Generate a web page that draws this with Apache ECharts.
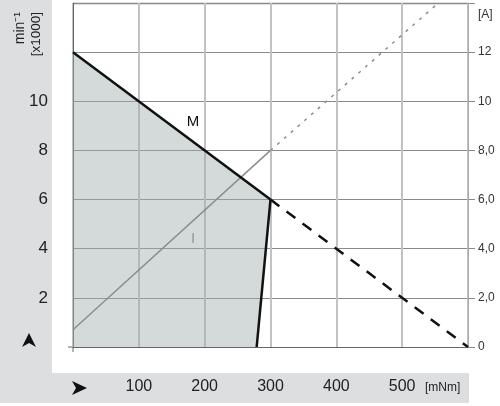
<!DOCTYPE html>
<html>
<head>
<meta charset="utf-8">
<script src="https://cdn.jsdelivr.net/npm/echarts@6/dist/echarts.min.js"></script>
<style>
  html, body { margin: 0; padding: 0; background: #fff; }
  #chart { width: 500px; height: 406px; }
</style>
</head>
<body>
<div id="chart"></div>
<script>
// speed / torque characteristic (speed in min^-1 x1000, current in A)
var mTorque = [0, 300];
var mSpeed = [12, 6];
var mExtTorque = [300, 600];
var mExtSpeed = [6, 0];
var edgeTorque = [300, 279];
var edgeSpeed = [6, 0];
var iTorque = [0, 300];
var iCurrent = [0.7, 8];
var iExtTorque = [300, 555];
var iExtCurrent = [8, 14];
var xTicks = [100, 200, 300, 400, 500];
var leftTicks = [2, 4, 6, 8, 10];

function pairs(xs, ys) {
  return xs.map(function (x, i) { return [x, ys[i]]; });
}

// operating area: M line, right edge, back to origin
var areaPts = pairs(mTorque, mSpeed).concat(pairs(edgeTorque, edgeSpeed).slice(1), [[0, 0]]);

var font = 'Liberation Sans, Arial, sans-serif';
var myChart = echarts.init(document.getElementById('chart'));

var option = {
  animation: false,
  grid: { left: 73, right: 32, top: 3, bottom: 59 },
  xAxis: {
    type: 'value', min: 0, max: 600, interval: 100,
    axisLine: { show: true, lineStyle: { color: '#666', width: 1 } },
    axisTick: { show: false },
    splitLine: { show: true, lineStyle: { color: '#c2c2c2', width: 2 } },
    axisLabel: {
      margin: 32, fontSize: 16, color: '#222', fontFamily: font,
      formatter: function (v) { return xTicks.indexOf(v) >= 0 ? String(v) : ''; }
    }
  },
  yAxis: [
    {
      type: 'value', min: 0, max: 14, interval: 2, position: 'left',
      axisLine: { show: true, lineStyle: { color: '#666' } },
      axisTick: { show: false },
      splitLine: { show: true, lineStyle: { color: '#8a8a8a', width: 1 } },
      axisLabel: {
        margin: 25, fontSize: 17, color: '#222', fontFamily: font,
        formatter: function (v) { return leftTicks.indexOf(v) >= 0 ? String(v) : ''; }
      }
    },
    {
      type: 'value', min: 0, max: 14, interval: 2, position: 'right',
      axisLine: { show: true, lineStyle: { color: '#aaa' } },
      axisTick: { show: true, inside: false, length: 7, lineStyle: { color: '#8a8a8a' } },
      splitLine: { show: false },
      axisLabel: {
        margin: 10, fontSize: 12, color: '#333', fontFamily: font,
        formatter: function (v) {
          if (v === 14) return '';
          if (v === 0 || v >= 10) return String(v);
          return v.toFixed(1).replace('.', ',');
        }
      }
    }
  ],
  graphic: [
    { type: 'rect', z: -10, shape: { x: 0, y: 0, width: 52, height: 403 }, style: { fill: '#dddee0' } },
    { type: 'rect', z: -10, shape: { x: 0, y: 373, width: 469, height: 30 }, style: { fill: '#dddee0' } },
    { type: 'line', shape: { x1: 73, y1: 3.5, x2: 468, y2: 3.5 }, style: { stroke: '#c2c2c2', lineWidth: 2 } },
    { type: 'polygon', shape: { points: [[29, 333], [36, 347], [29, 343], [22, 347]] }, style: { fill: '#111' } },
    { type: 'polygon', shape: { points: [[72, 381], [87, 388], [72, 395], [76, 388]] }, style: { fill: '#111' } },
    { type: 'line', shape: { x1: 73, y1: 347, x2: 73, y2: 352 }, style: { stroke: '#666', lineWidth: 1 } },
    { type: 'line', shape: { x1: 68, y1: 347, x2: 73, y2: 347 }, style: { stroke: '#666', lineWidth: 1 } },
    { type: 'text', x: 20, y: 12, rotation: Math.PI / 2,
      style: { text: 'min\u207B\u00B9', font: '14px ' + font, fill: '#222', align: 'right', verticalAlign: 'middle' } },
    { type: 'text', x: 36, y: 12, rotation: Math.PI / 2,
      style: { text: '[x1000]', font: '13.5px ' + font, fill: '#222', align: 'right', verticalAlign: 'middle' } },
    { type: 'text', x: 478, y: 15,
      style: { text: '[A]', font: '12px ' + font, fill: '#333', align: 'left', verticalAlign: 'middle' } },
    { type: 'text', x: 425, y: 388,
      style: { text: '[mNm]', font: '12px ' + font, fill: '#222', align: 'left', verticalAlign: 'middle' } },
    { type: 'text', x: 193, y: 122,
      style: { text: 'M', font: '15px ' + font, fill: '#111', align: 'center', verticalAlign: 'middle' } },
    { type: 'text', x: 193, y: 239,
      style: { text: 'I', font: '15px ' + font, fill: '#888', align: 'center', verticalAlign: 'middle' } }
  ],
  series: [
    {
      type: 'custom', name: 'area', z: 1,
      data: [0],
      renderItem: function (params, api) {
        return {
          type: 'polygon',
          shape: { points: areaPts.map(function (p) { return api.coord(p); }) },
          style: { fill: 'rgba(160,170,170,0.45)' }
        };
      }
    },
    {
      type: 'line', name: 'I', yAxisIndex: 1, symbol: 'none', z: 3,
      data: pairs(iTorque, iCurrent),
      lineStyle: { color: '#8c8c8c', width: 1.5 }
    },
    {
      type: 'line', name: 'I ext', yAxisIndex: 1, symbol: 'none', z: 3,
      data: pairs(iExtTorque, iExtCurrent),
      lineStyle: { color: '#8c8c8c', width: 1.5, type: [3, 6] }
    },
    {
      type: 'line', name: 'M', symbol: 'none', z: 4,
      data: pairs(mTorque, mSpeed),
      lineStyle: { color: '#111', width: 2.5 }
    },
    {
      type: 'line', name: 'M ext', symbol: 'none', z: 4,
      data: pairs(mExtTorque, mExtSpeed),
      lineStyle: { color: '#111', width: 2.5, type: [11, 9] }
    },
    {
      type: 'line', name: 'edge', symbol: 'none', z: 4,
      data: pairs(edgeTorque, edgeSpeed),
      lineStyle: { color: '#111', width: 2.5 }
    }
  ]
};

myChart.setOption(option);
</script>
</body>
</html>
